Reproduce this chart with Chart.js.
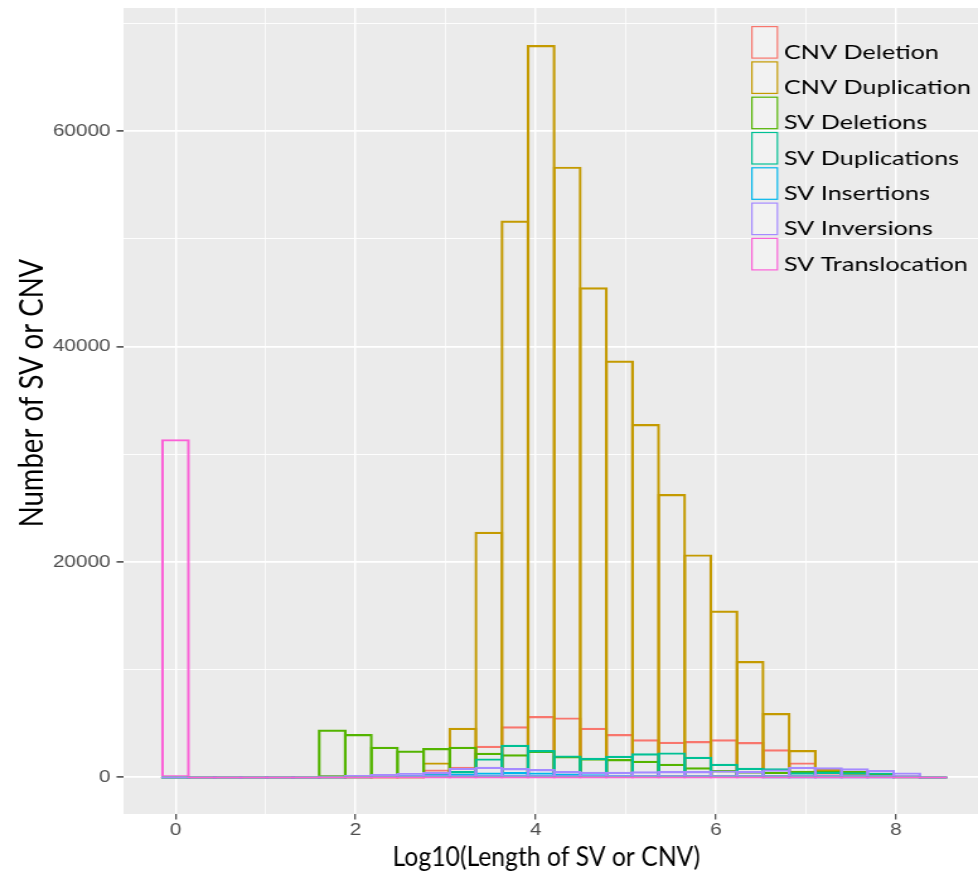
<!DOCTYPE html>
<html>
<head>
<meta charset="utf-8">
<script src="https://cdn.jsdelivr.net/npm/chart.js@4/dist/chart.umd.min.js"></script>
<style>
  html, body { margin: 0; padding: 0; background: #ffffff; overflow: hidden; }
  canvas { display: block; }
</style>
</head>
<body>
<canvas id="chart" width="776" height="879" style="width:978px;height:879px"></canvas>
<script>
// Histogram bins of log10(length): centres of the 30 bins
const binCenters = [0.00, 0.29, 0.58, 0.87, 1.16, 1.45, 1.74, 2.03, 2.32, 2.61,
                    2.90, 3.19, 3.48, 3.77, 4.06, 4.35, 4.64, 4.93, 5.22, 5.51,
                    5.80, 6.09, 6.38, 6.67, 6.96, 7.25, 7.54, 7.83, 8.12, 8.41];

const seriesNames = ['CNV Deletion', 'CNV Duplication', 'SV Deletions', 'SV Duplications',
                     'SV Insertions', 'SV Inversions', 'SV Translocation'];

// Counts per bin for each variant class
const cnvDeletion     = [0,0,0,0,0,0,0,0,0,0, 740,990,2940,4740,5700,5570,4610,4020,3530,3310, 3370,3530,3280,2600,1390,460,280,150,50,0];
const cnvDuplication  = [0,0,0,0,0,0,0,0,0,0, 1390,4610,22800,51700,68000,56700,45500,38700,32800,26300, 20700,15500,10800,5970,2540,770,300,100,0,0];
const svDeletions     = [0,0,0,0,0,0,4450,4020,2850,2500, 2720,2840,2290,2140,2470,1980,1760,1700,1540,1260, 930,680,560,520,610,590,590,370,80,0];
const svDuplications  = [0,0,0,0,0,0,0,0,100,150, 370,590,1760,3030,2540,2040,1820,2010,2230,2320, 1910,1260,890,840,465,525,465,430,50,0];
const svInsertions    = [0,0,0,0,0,0,0,80,150,250, 300,350,450,500,450,350,300,250,200,150, 100,80,50,0,0,0,0,0,0,0];
const svInversions    = [0,0,0,0,0,0,50,215,310,400, 490,890,990,860,770,590,520,520,560,590, 590,650,590,740,985,930,840,680,460,0];
const svTranslocation = [31400,0,0,0,0,0,0,0,0,0, 0,0,0,0,0,0,0,0,0,0, 0,0,0,0,0,0,0,0,0,0];

const seriesValues = [cnvDeletion, cnvDuplication, svDeletions, svDuplications,
                      svInsertions, svInversions, svTranslocation];

// Axis ticks and titles
const xMajorTicks = [0, 2, 4, 6, 8];
const xMinorTicks = [1, 3, 5, 7];
const yMajorTicks = [0, 20000, 40000, 60000];
const yMinorTicks = [10000, 30000, 50000, 70000];
const xTitle = 'Log10(Length of SV or CNV)';
const yTitle = 'Number of SV or CNV';

// ggplot2 default hue palette for seven groups
const palette = ['#F8766D', '#C49A00', '#53B400', '#00C094', '#00B6EB', '#A58AFF', '#FB61D7'];

const PANEL_BG = '#EBEBEB';

const panelBackground = {
  id: 'panelBackground',
  beforeDraw(chart) {
    const { ctx, chartArea: a } = chart;
    ctx.save();
    ctx.fillStyle = PANEL_BG;
    ctx.fillRect(a.left, a.top, a.right - a.left, a.bottom - a.top);
    ctx.restore();
  }
};

// Axis titles: the y title rotated at the left, the x title (condensed) below the ticks
const axisTitles = {
  id: 'axisTitles',
  afterDraw(chart) {
    const ctx = chart.ctx;
    ctx.save();
    ctx.fillStyle = '#000000';
    ctx.textAlign = 'center';
    ctx.textBaseline = 'alphabetic';

    ctx.save();
    ctx.translate(33.5, 393);
    ctx.rotate(-Math.PI / 2);
    ctx.font = '27.5px Lato';
    ctx.fillText(yTitle, 0, 0);
    ctx.restore();

    ctx.save();
    ctx.font = '27px Lato';
    const w = ctx.measureText(xTitle).width;
    ctx.translate(433.5, 866);
    ctx.scale(244 / w, 1);
    ctx.fillText(xTitle, 0, 0);
    ctx.restore();

    ctx.restore();
  }
};

// Legend drawn inside the panel, top right
const insideLegend = {
  id: 'insideLegend',
  afterDraw(chart) {
    const ctx = chart.ctx;
    const keyX = 596, keyW = 21.4, keyH = 32.7, top0 = 26, step = 35.3;
    ctx.save();
    ctx.font = '20px Lato';
    ctx.textBaseline = 'alphabetic';
    ctx.textAlign = 'left';
    chart.data.datasets.forEach((ds, i) => {
      const y = top0 + i * step;
      ctx.fillStyle = '#F2F2F2';
      ctx.fillRect(keyX, y, keyW, keyH);
      ctx.strokeStyle = ds.borderColor;
      ctx.lineWidth = 1.2;
      ctx.strokeRect(keyX + 0.6, y + 0.6, keyW - 1.2, keyH - 1.2);
      ctx.fillStyle = '#000000';
      ctx.fillText(ds.label, 622, y + keyH);
    });
    ctx.restore();
  }
};

const datasets = seriesNames.map((name, i) => ({
  label: name,
  data: binCenters.map((x, k) => ({ x: x, y: seriesValues[i][k] })),
  borderColor: palette[i],
  backgroundColor: 'rgba(0,0,0,0)',
  borderWidth: { top: 2.2, left: 2.2, right: 2.2, bottom: 1.2 },
  borderSkipped: false,
  minBarLength: 2,
  grouped: false,
  categoryPercentage: 1,
  barPercentage: 1.106,
  order: seriesNames.length - 1 - i
}));

const tickFont = { family: 'Liberation Sans', size: 16.5 };

new Chart(document.getElementById('chart'), {
  type: 'bar',
  data: { datasets },
  plugins: [panelBackground, axisTitles, insideLegend],
  options: {
    responsive: false,
    maintainAspectRatio: false,
    devicePixelRatio: 1,
    animation: false,
    layout: { padding: { top: 8, right: 0, bottom: 0, left: 0 } },
    plugins: {
      legend: { display: false },
      tooltip: { enabled: false },
      title: { display: false }
    },
    scales: {
      x: {
        type: 'linear',
        min: -0.577,
        max: 8.911,
        offset: false,
        afterBuildTicks(scale) {
          scale.ticks = xMajorTicks.concat(xMinorTicks).sort((a, b) => a - b).map(v => ({ value: v }));
        },
        afterFit(scale) {
          scale.height = 65;
          scale.paddingLeft = 0; scale.paddingRight = 0;
        },
        grid: {
          offset: false,
          color: '#FFFFFF',
          lineWidth: (c) => xMajorTicks.includes(c.tick && c.tick.value) ? 1.45 : 0.75,
          drawTicks: true,
          tickLength: 5.5,
          tickWidth: 1.1,
          tickColor: (c) => xMajorTicks.includes(c.tick && c.tick.value) ? '#333333' : 'rgba(0,0,0,0)'
        },
        border: { display: false },
        ticks: {
          autoSkip: false,
          maxRotation: 0,
          padding: 1,
          color: '#4D4D4D',
          font: tickFont,
          callback: (v) => xMajorTicks.includes(v) ? String(v) : ''
        },
        title: { display: false }
      },
      y: {
        type: 'linear',
        min: -3400,
        max: 71430,
        afterBuildTicks(scale) {
          scale.ticks = yMajorTicks.concat(yMinorTicks).sort((a, b) => a - b).map(v => ({ value: v }));
        },
        afterFit(scale) {
          scale.width = 98;
          scale.paddingTop = 0; scale.paddingBottom = 0;
        },
        grid: {
          color: '#FFFFFF',
          lineWidth: (c) => yMajorTicks.includes(c.tick && c.tick.value) ? 1.8 : 0.9,
          drawTicks: true,
          tickLength: 5.5,
          tickWidth: 1.4,
          tickColor: (c) => yMajorTicks.includes(c.tick && c.tick.value) ? '#333333' : 'rgba(0,0,0,0)'
        },
        border: { display: false },
        ticks: {
          autoSkip: false,
          padding: 4.7,
          color: '#4D4D4D',
          font: tickFont,
          callback: (v) => yMajorTicks.includes(v) ? String(v) : ''
        },
        title: { display: false }
      }
    }
  }
});
</script>
</body>
</html>
